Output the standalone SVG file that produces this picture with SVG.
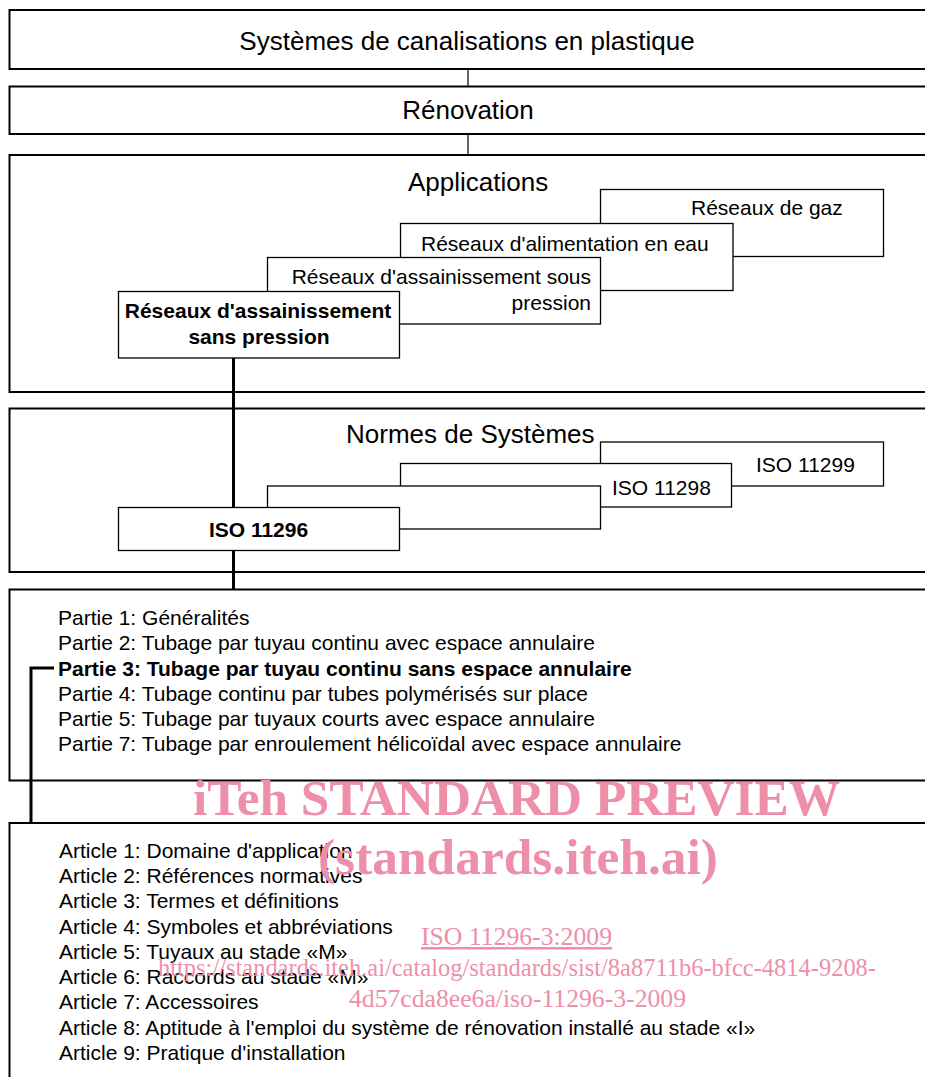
<svg xmlns="http://www.w3.org/2000/svg" width="925" height="1077" viewBox="0 0 925 1077">
<style>
.outer{fill:#fff;stroke:#000;stroke-width:2}
.node{fill:#fff;stroke:#000;stroke-width:1.3}
.t{font-family:"Liberation Sans",Arial,sans-serif;fill:#000}
.big{font-size:26px}
.n{font-size:21px}
.b{font-weight:bold}
.thin{stroke:#000;stroke-width:1.2;fill:none}
.thick{stroke:#000;stroke-width:3;fill:none}
.wm{font-family:"Liberation Serif","Times New Roman",serif;fill:#EE8FAA}
</style>
<rect width="925" height="1077" fill="#fff"/>
<g id="n-systemes">
<rect class="outer" x="9.5" y="10" width="930" height="59"/>
<text class="t big" x="467" y="50" text-anchor="middle">Systèmes de canalisations en plastique</text>
</g>
<g id="n-renovation">
<rect class="outer" x="9.5" y="86.5" width="930" height="47.5"/>
<text class="t big" x="468" y="119" text-anchor="middle">Rénovation</text>
</g>
<g id="n-applications">
<rect class="outer" x="9.5" y="155" width="930" height="237"/>
<text class="t big" x="408" y="191">Applications</text>
</g>
<g id="n-gaz">
<rect class="node" x="600.5" y="189.5" width="283" height="67"/>
<text class="t n" x="691" y="215">Réseaux de gaz</text>
</g>
<g id="n-eau">
<rect class="node" x="400.5" y="223.5" width="332.5" height="67"/>
<text class="t n" x="421" y="251">Réseaux d'alimentation en eau</text>
</g>
<g id="n-sous-pression">
<rect class="node" x="267.5" y="257.5" width="333" height="66.5"/>
<text class="t n" x="591" y="284" text-anchor="end">Réseaux d'assainissement sous</text>
<text class="t n" x="591" y="310" text-anchor="end">pression</text>
</g>
<g id="n-sans-pression">
<rect class="node" x="118.5" y="291.5" width="281" height="66.5"/>
<text class="t n b" x="258" y="318" text-anchor="middle">Réseaux d'assainissement</text>
<text class="t n b" x="259" y="344" text-anchor="middle">sans pression</text>
</g>
<g id="n-normes">
<rect class="outer" x="9.5" y="408.5" width="930" height="163.5"/>
<text class="t big" x="346" y="443">Normes de Systèmes</text>
</g>
<g id="n-iso11299">
<rect class="node" x="600.5" y="442" width="283" height="44"/>
<text class="t n" x="756" y="472">ISO 11299</text>
</g>
<g id="n-iso11298">
<rect class="node" x="400.5" y="463.5" width="331" height="43.5"/>
<text class="t n" x="612" y="495">ISO 11298</text>
</g>
<g id="n-iso-blank">
<rect class="node" x="267.5" y="486" width="333" height="43"/>
</g>
<g id="n-iso11296">
<rect class="node" x="118.5" y="507.5" width="281" height="43"/>
<text class="t n b" x="258.5" y="537" text-anchor="middle">ISO 11296</text>
</g>
<g id="n-parties">
<rect class="outer" x="9.5" y="589.5" width="930" height="191"/>
<text class="t n" x="58" y="625">Partie 1: Généralités</text>
<text class="t n" x="58" y="650">Partie 2: Tubage par tuyau continu avec espace annulaire</text>
<text class="t n b" x="58" y="676">Partie 3: Tubage par tuyau continu sans espace annulaire</text>
<text class="t n" x="58" y="701">Partie 4: Tubage continu par tubes polymérisés sur place</text>
<text class="t n" x="58" y="726">Partie 5: Tubage par tuyaux courts avec espace annulaire</text>
<text class="t n" x="58" y="751">Partie 7: Tubage par enroulement hélicoïdal avec espace annulaire</text>
</g>
<g id="n-articles">
<rect class="outer" x="9.5" y="823" width="930" height="270"/>
<text class="t n" x="59" y="858">Article 1: Domaine d'application</text>
<text class="t n" x="59" y="883">Article 2: Références normatives</text>
<text class="t n" x="59" y="908">Article 3: Termes et définitions</text>
<text class="t n" x="59" y="934">Article 4: Symboles et abbréviations</text>
<text class="t n" x="59" y="959">Article 5: Tuyaux au stade «M»</text>
<text class="t n" x="59" y="984">Article 6: Raccords au stade «M»</text>
<text class="t n" x="59" y="1009">Article 7: Accessoires</text>
<text class="t n" x="59" y="1035">Article 8: Aptitude à l'emploi du système de rénovation installé au stade «I»</text>
<text class="t n" x="59" y="1060">Article 9: Pratique d'installation</text>
</g>
<g id="connectors">
<line class="thin" x1="468" y1="69" x2="468" y2="86.5"/>
<line class="thin" x1="468" y1="134" x2="468" y2="155"/>
<line class="thick" x1="233.5" y1="358" x2="233.5" y2="507.5"/>
<line class="thick" x1="233.5" y1="550.5" x2="233.5" y2="589.5"/>
<polyline class="thick" points="54,668 31,668 31,823"/>
</g>
<g id="watermark">
<text class="wm" x="193" y="815" font-size="50" font-weight="bold" textLength="647" lengthAdjust="spacingAndGlyphs">iTeh STANDARD PREVIEW</text>
<text class="wm" x="318" y="874" font-size="50" font-weight="bold" textLength="400" lengthAdjust="spacingAndGlyphs">(standards.iteh.ai)</text>
<text class="wm" x="421" y="945" font-size="25" text-decoration="underline" textLength="191" lengthAdjust="spacingAndGlyphs">ISO 11296-3:2009</text>
<text class="wm" x="158" y="976" font-size="25" textLength="718" lengthAdjust="spacingAndGlyphs">https://standards.iteh.ai/catalog/standards/sist/8a8711b6-bfcc-4814-9208-</text>
<text class="wm" x="349" y="1007" font-size="25" textLength="337" lengthAdjust="spacingAndGlyphs">4d57cda8ee6a/iso-11296-3-2009</text>
</g>
</svg>
